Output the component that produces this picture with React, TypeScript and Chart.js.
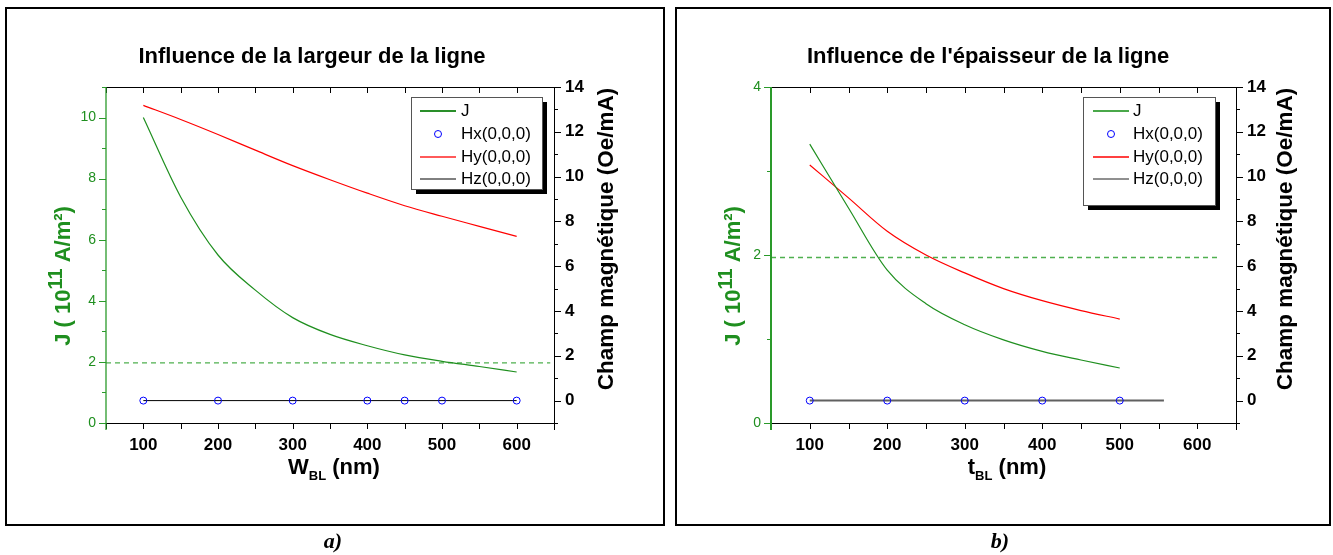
import React, { useEffect, useRef } from 'react';
import { Chart, registerables } from 'chart.js';

Chart.register(...registerables);

// ---------- Panel a) : influence of line width ----------
const widthNm = [100, 150, 200, 250, 300, 350, 400, 450, 500, 550, 600];
const jWidth = [10.0, 7.4, 5.5, 4.35, 3.45, 2.9, 2.53, 2.23, 2.02, 1.85, 1.67];
const hyWidth = [13.18, 12.55, 11.88, 11.18, 10.49, 9.86, 9.26, 8.7, 8.23, 7.78, 7.33];
const hxWidthNm = [100, 200, 300, 400, 450, 500, 600];
const hxWidth = [0, 0, 0, 0, 0, 0, 0];
const hzWidthNm = [100, 600];
const hzWidth = [0, 0];
const limitWidthNm = [50, 645];
const limitWidth = [1.97, 1.97];

// ---------- Panel b) : influence of line thickness ----------
const thickNm = [100, 150, 200, 250, 300, 350, 400, 450, 500];
const jThick = [3.32, 2.56, 1.82, 1.42, 1.17, 0.99, 0.853, 0.75, 0.655];
const hyThick = [10.52, 9.05, 7.56, 6.5, 5.7, 5.0, 4.46, 4.02, 3.64];
const hxThickNm = [100, 200, 300, 400, 500];
const hxThick = [0, 0, 0, 0, 0];
const hzThickNm = [100, 557];
const hzThick = [0, 0];
const limitThickNm = [50, 626];
const limitThick = [1.97, 1.97];

// ---------- tick labels ----------
const xTickLabels = [100, 200, 300, 400, 500, 600];
const jTickLabelsA = [0, 2, 4, 6, 8, 10];
const jTickLabelsB = [0, 2, 4];
const hTickLabels = [0, 2, 4, 6, 8, 10, 12, 14];
const legendLabels = ['J', 'Hx(0,0,0)', 'Hy(0,0,0)', 'Hz(0,0,0)'];

const FONT = '"Liberation Sans", Arial, sans-serif';
const GREEN = '#1f8f1f';
const AXIS_GREEN = '#2a9a2a';
const DASH_GREEN = '#4fb04f';
const RED = '#ff0000';
const BLUE = '#0000ff';

const xy = (xs: number[], ys: number[]) => xs.map((x, i) => ({ x, y: ys[i] }));

type Part = { t: string; size: number; dy: number };

function drawRich(ctx: CanvasRenderingContext2D, parts: Part[], cx: number, cy: number, rot: number, color: string) {
  ctx.save();
  ctx.translate(cx, cy);
  ctx.rotate(rot);
  ctx.fillStyle = color;
  ctx.textBaseline = 'middle';
  ctx.textAlign = 'left';
  const widths = parts.map((p) => {
    ctx.font = `bold ${p.size}px ${FONT}`;
    return ctx.measureText(p.t).width;
  });
  const total = widths.reduce((a, b) => a + b, 0);
  let x = -total / 2;
  parts.forEach((p, i) => {
    ctx.font = `bold ${p.size}px ${FONT}`;
    ctx.fillText(p.t, x, p.dy);
    x += widths[i];
  });
  ctx.restore();
}

type Legend = {
  x: number; y: number; w: number; h: number; rows: number[]; s0: number; s1: number; tx: number;
  colors: string[]; widths: number[];
};

type Spec = {
  left: number;
  width: number;
  height: number;
  area: { left: number; right: number; top: number; bottom: number };
  title: string;
  titleX: number;
  xVar: string;
  xTitleX: number;
  jMax: number;
  jLabels: number[];
  jTitle: { x: number; y: number };
  hTitle: { x: number; y: number };
  legend: Legend;
  hzColor: string;
  hzWidth: number;
  leftAxisWidth: number;
  jX: number[]; jY: number[];
  hxX: number[]; hxY: number[];
  hyX: number[]; hyY: number[];
  hzX: number[]; hzY: number[];
  limX: number[]; limY: number[];
};

const specA: Spec = {
  left: 0,
  width: 670,
  height: 530,
  area: { left: 106, right: 554, top: 87, bottom: 423 },
  title: 'Influence de la largeur de la ligne',
  titleX: 312,
  xVar: 'W',
  xTitleX: 334,
  jMax: 11,
  jLabels: jTickLabelsA,
  jTitle: { x: 64, y: 276 },
  hTitle: { x: 607, y: 239 },
  legend: {
    x: 411, y: 97, w: 131, h: 92, rows: [111, 134, 157, 179], s0: 420, s1: 456, tx: 461,
    colors: ['#2a8f2a', BLUE, '#ff5a5a', '#000000'], widths: [2, 1, 2, 1],
  },
  hzColor: '#000000',
  hzWidth: 1,
  leftAxisWidth: 1.3,
  jX: widthNm, jY: jWidth,
  hxX: hxWidthNm, hxY: hxWidth,
  hyX: widthNm, hyY: hyWidth,
  hzX: hzWidthNm, hzY: hzWidth,
  limX: limitWidthNm, limY: limitWidth,
};

const specB: Spec = {
  left: 670,
  width: 663,
  height: 530,
  area: { left: 101, right: 566, top: 87, bottom: 423 },
  title: "Influence de l'épaisseur de la ligne",
  titleX: 318,
  xVar: 't',
  xTitleX: 337,
  jMax: 4,
  jLabels: jTickLabelsB,
  jTitle: { x: 64, y: 276 },
  hTitle: { x: 616, y: 239 },
  legend: {
    x: 413, y: 97, w: 132, h: 108, rows: [111, 134, 157, 179], s0: 423, s1: 459, tx: 463,
    colors: ['#4aa84a', BLUE, '#ff0000', '#202020'], widths: [2, 1, 1.5, 1],
  },
  hzColor: '#606060',
  hzWidth: 2,
  leftAxisWidth: 2,
  jX: thickNm, jY: jThick,
  hxX: hxThickNm, hxY: hxThick,
  hyX: thickNm, hyY: hyThick,
  hzX: hzThickNm, hzY: hzThick,
  limX: limitThickNm, limY: limitThick,
};

function makeDecor(spec: Spec) {
  return {
    id: 'decor',
    afterDraw(chart: any) {
      const ctx: CanvasRenderingContext2D = chart.ctx;
      const a = chart.chartArea;
      const xs = chart.scales.x;
      const yJ = chart.scales.yJ;
      const yH = chart.scales.yH;
      ctx.save();
      ctx.lineCap = 'butt';
      // frame lines
      ctx.strokeStyle = '#000';
      ctx.lineWidth = 1;
      ctx.beginPath();
      ctx.moveTo(a.left, a.top + 0.5);
      ctx.lineTo(a.right, a.top + 0.5);
      ctx.moveTo(a.left, a.bottom + 0.5);
      ctx.lineTo(a.right, a.bottom + 0.5);
      ctx.moveTo(a.right + 0.5, a.top);
      ctx.lineTo(a.right + 0.5, a.bottom + 7);
      ctx.stroke();
      // x ticks
      ctx.beginPath();
      xs.ticks.forEach((t: any) => {
        const px = Math.round(xs.getPixelForValue(t.value)) + 0.5;
        ctx.moveTo(px, a.bottom);
        ctx.lineTo(px, a.bottom + 6);
        ctx.moveTo(px, a.top);
        ctx.lineTo(px, a.top + 6);
      });
      ctx.stroke();
      // right axis ticks
      ctx.beginPath();
      yH.ticks.forEach((t: any) => {
        const py = Math.round(yH.getPixelForValue(t.value)) + 0.5;
        const len = hTickLabels.includes(t.value) ? 7 : 4;
        ctx.moveTo(a.right, py);
        ctx.lineTo(a.right + len, py);
      });
      ctx.stroke();
      // left axis (green)
      ctx.strokeStyle = AXIS_GREEN;
      ctx.lineWidth = spec.leftAxisWidth;
      ctx.beginPath();
      ctx.moveTo(a.left, a.top);
      ctx.lineTo(a.left, a.bottom + 7);
      ctx.stroke();
      ctx.lineWidth = 1;
      ctx.beginPath();
      yJ.ticks.forEach((t: any) => {
        const py = Math.round(yJ.getPixelForValue(t.value)) + 0.5;
        const len = spec.jLabels.includes(t.value) ? 7 : 4;
        ctx.moveTo(a.left - len, py);
        ctx.lineTo(a.left, py);
      });
      ctx.stroke();

      // chart title
      drawRich(ctx, [{ t: spec.title, size: 22, dy: 0 }], spec.titleX, 57, 0, '#000');
      // x title
      drawRich(
        ctx,
        [
          { t: spec.xVar, size: 22, dy: 0 },
          { t: 'BL', size: 13, dy: 8 },
          { t: ' (nm)', size: 22, dy: 0 },
        ],
        spec.xTitleX,
        468,
        0,
        '#000'
      );
      // left title
      drawRich(
        ctx,
        [
          { t: 'J ( 10', size: 22, dy: 0 },
          { t: '11', size: 20, dy: -8 },
          { t: ' A/m²)', size: 22, dy: 0 },
        ],
        spec.jTitle.x,
        spec.jTitle.y,
        -Math.PI / 2,
        GREEN
      );
      // right title
      drawRich(ctx, [{ t: 'Champ magnétique (Oe/mA)', size: 22.5, dy: 0 }], spec.hTitle.x, spec.hTitle.y, -Math.PI / 2, '#000');

      // legend
      const L = spec.legend;
      ctx.fillStyle = '#000';
      ctx.fillRect(L.x + 5, L.y + 5, L.w, L.h);
      ctx.fillStyle = '#fff';
      ctx.fillRect(L.x, L.y, L.w, L.h);
      ctx.strokeStyle = '#555';
      ctx.lineWidth = 1;
      ctx.strokeRect(L.x + 0.5, L.y + 0.5, L.w, L.h);
      const ds = chart.data.datasets;
      legendLabels.forEach((lab, i) => {
        const d = ds[i];
        const y = L.rows[i];
        if (d.showLine === false) {
          ctx.strokeStyle = L.colors[i];
          ctx.lineWidth = 1;
          ctx.beginPath();
          ctx.arc((L.s0 + L.s1) / 2, y, 3.5, 0, Math.PI * 2);
          ctx.stroke();
        } else {
          ctx.strokeStyle = L.colors[i];
          ctx.lineWidth = L.widths[i];
          ctx.beginPath();
          ctx.moveTo(L.s0, y);
          ctx.lineTo(L.s1, y);
          ctx.stroke();
        }
        ctx.fillStyle = '#000';
        ctx.font = `17px ${FONT}`;
        ctx.textBaseline = 'middle';
        ctx.textAlign = 'left';
        ctx.fillText(d.label || lab, L.tx, y);
      });
      ctx.restore();
    },
  };
}

function Panel({ spec }: { spec: Spec }) {
  const ref = useRef<HTMLCanvasElement | null>(null);
  useEffect(() => {
    if (!ref.current) return;
    const a = spec.area;
    const axisW = 50;
    const xH = 40;
    const chart = new Chart(ref.current, {
      type: 'line',
      data: {
        datasets: [
          {
            label: legendLabels[0],
            data: xy(spec.jX, spec.jY),
            borderColor: GREEN,
            borderWidth: 1.2,
            pointRadius: 0,
            cubicInterpolationMode: 'monotone',
            yAxisID: 'yJ',
            order: 2,
          },
          {
            label: legendLabels[1],
            data: xy(spec.hxX, spec.hxY),
            showLine: false,
            pointRadius: 3.5,
            pointBorderColor: BLUE,
            pointBackgroundColor: 'rgba(0,0,0,0)',
            pointBorderWidth: 1,
            borderColor: BLUE,
            yAxisID: 'yH',
            order: 0,
          },
          {
            label: legendLabels[2],
            data: xy(spec.hyX, spec.hyY),
            borderColor: RED,
            borderWidth: 1.2,
            pointRadius: 0,
            cubicInterpolationMode: 'monotone',
            yAxisID: 'yH',
            order: 2,
          },
          {
            label: legendLabels[3],
            data: xy(spec.hzX, spec.hzY),
            borderColor: spec.hzColor,
            borderWidth: spec.hzWidth,
            pointRadius: 0,
            yAxisID: 'yH',
            order: 1,
          },
          {
            label: '',
            data: xy(spec.limX, spec.limY),
            borderColor: DASH_GREEN,
            borderWidth: 1.3,
            borderDash: [5, 4],
            pointRadius: 0,
            yAxisID: 'yJ',
            order: 3,
          },
        ] as any,
      },
      options: {
        animation: false,
        responsive: false,
        events: [],
        layout: {
          padding: {
            left: a.left - axisW,
            right: spec.width - a.right - axisW,
            top: a.top,
            bottom: spec.height - a.bottom - xH,
          },
        },
        plugins: { legend: { display: false }, title: { display: false }, tooltip: { enabled: false } },
        scales: {
          x: {
            type: 'linear',
            position: 'bottom',
            min: 50,
            max: 650,
            grid: { display: false, drawTicks: false },
            border: { display: false },
            ticks: {
              stepSize: 50,
              autoSkip: false,
              maxRotation: 0,
              padding: 12,
              color: '#000',
              font: { family: FONT, size: 17, weight: 'bold' },
              callback: (v: any) => (xTickLabels.includes(Number(v)) ? String(v) : ''),
            },
            afterFit: (s: any) => {
              s.height = xH;
            },
          },
          yJ: {
            type: 'linear',
            position: 'left',
            min: 0,
            max: spec.jMax,
            grid: { display: false, drawTicks: false },
            border: { display: false },
            ticks: {
              stepSize: 1,
              autoSkip: false,
              padding: 10,
              color: GREEN,
              font: { family: FONT, size: 14 },
              callback: (v: any) => (spec.jLabels.includes(Number(v)) ? String(v) : ''),
            },
            afterFit: (s: any) => {
              s.width = axisW;
            },
          },
          yH: {
            type: 'linear',
            position: 'right',
            min: -1,
            max: 14,
            grid: { display: false, drawTicks: false },
            border: { display: false },
            ticks: {
              stepSize: 1,
              autoSkip: false,
              padding: 11,
              color: '#000',
              font: { family: FONT, size: 17, weight: 'bold' },
              callback: (v: any) => (hTickLabels.includes(Number(v)) ? String(v) : ''),
            },
            afterFit: (s: any) => {
              s.width = axisW;
            },
          },
        },
      } as any,
      plugins: [makeDecor(spec)],
    });
    return () => chart.destroy();
  }, [spec]);
  return (
    <canvas
      ref={ref}
      width={spec.width}
      height={spec.height}
      style={{ position: 'absolute', left: spec.left, top: 0, width: spec.width, height: spec.height }}
    />
  );
}

const frameStyle = (left: number, width: number): React.CSSProperties => ({
  position: 'absolute',
  left,
  top: 7,
  width,
  height: 519,
  border: '2px solid #000',
  boxSizing: 'border-box',
});

const captionStyle = (cx: number): React.CSSProperties => ({
  position: 'absolute',
  left: cx - 50,
  top: 530,
  width: 100,
  textAlign: 'center',
  font: 'italic bold 22px "Liberation Serif", "Times New Roman", serif',
  lineHeight: '22px',
  color: '#000',
});

export default function App() {
  return (
    <div style={{ position: 'fixed', left: 0, top: 0, width: 1333, height: 555, background: '#fff', overflow: 'hidden' }}>
      <div style={frameStyle(5, 660)} />
      <div style={frameStyle(675, 656)} />
      <Panel spec={specA} />
      <Panel spec={specB} />
      <div style={captionStyle(333)}>a)</div>
      <div style={captionStyle(1000)}>b)</div>
    </div>
  );
}
